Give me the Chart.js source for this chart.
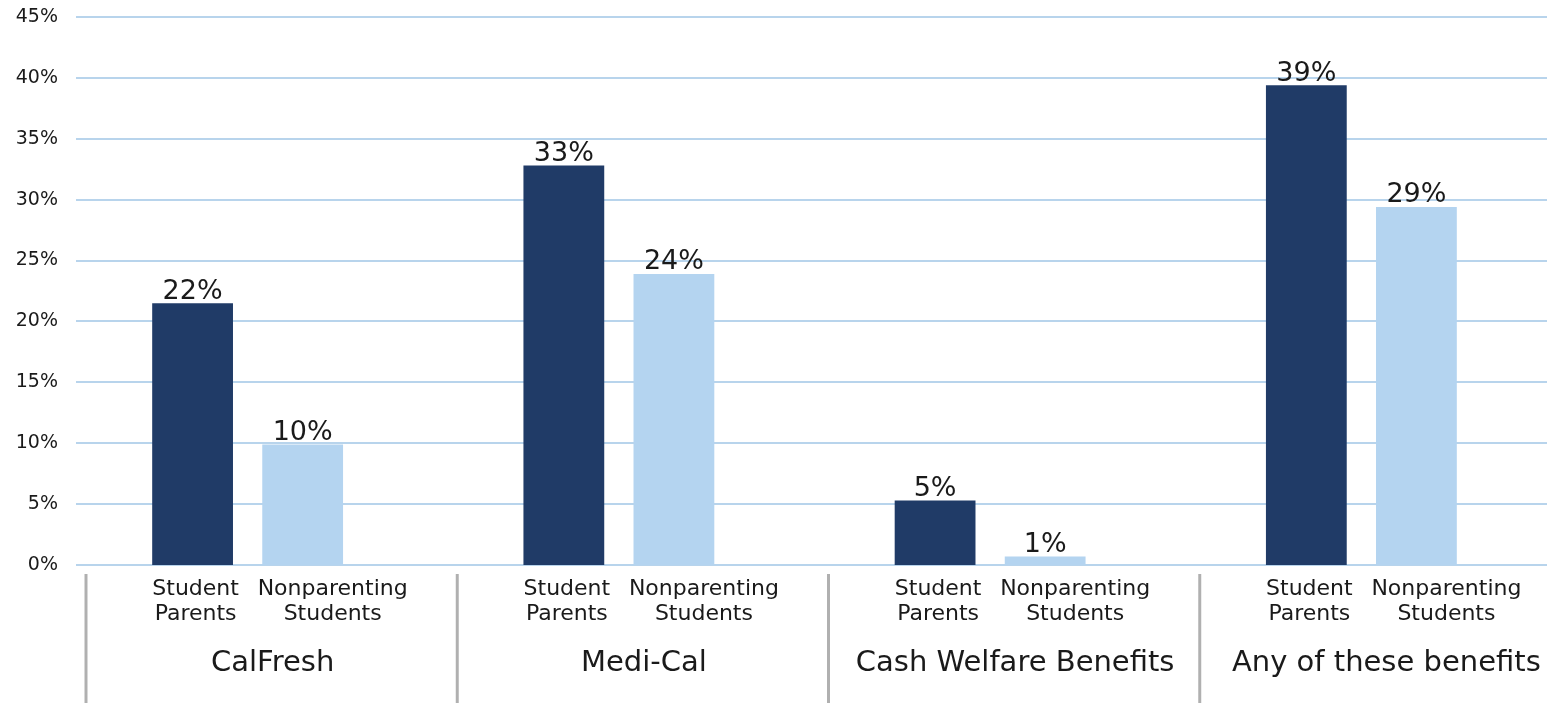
<!DOCTYPE html>
<html>
<head>
<meta charset="utf-8">
<script src="https://cdn.jsdelivr.net/npm/chart.js@4/dist/chart.umd.min.js"></script>
<style>
  html, body { margin: 0; padding: 0; background: #fff; }
  #wrap { width: 1566px; height: 703px; position: relative; }
</style>
</head>
<body>
<div id="wrap"><canvas id="c" width="1566" height="703"></canvas></div>
<script>
const groups = ["CalFresh", "Medi-Cal", "Cash Welfare Benefits", "Any of these benefits"];
const seriesNames = [["Student", "Parents"], ["Nonparenting", "Students"]];
const studentParents = [21.5, 32.8, 5.3, 39.4];
const nonparentingStudents = [9.9, 23.9, 0.7, 29.4];
const yTicks = [0, 5, 10, 15, 20, 25, 30, 35, 40, 45];

const FONT = "'DejaVu Sans', sans-serif";
const TEXT = "#1a1a1a";

const gridLines = {
  id: 'gridLines',
  beforeDatasetsDraw(chart) {
    const ctx = chart.ctx;
    const y = chart.scales.y;
    const area = chart.chartArea;
    ctx.save();
    ctx.strokeStyle = '#b8d4ec';
    ctx.lineWidth = 2;
    yTicks.forEach(v => {
      const py = Math.round(y.getPixelForValue(v));
      ctx.beginPath();
      ctx.moveTo(area.left + 14, py);
      ctx.lineTo(area.right, py);
      ctx.stroke();
    });
    ctx.restore();
  }
};

const belowAxis = {
  id: 'belowAxis',
  afterDraw(chart) {
    const ctx = chart.ctx;
    const x = chart.scales.x;
    const area = chart.chartArea;
    const w = x.getPixelForValue(1) - x.getPixelForValue(0);
    ctx.save();
    // separators
    ctx.strokeStyle = '#b0b0b0';
    ctx.lineWidth = 3;
    for (let i = 0; i < groups.length; i++) {
      const sx = x.getPixelForValue(i) - w / 2 + 24;
      ctx.beginPath();
      ctx.moveTo(sx, area.bottom + 9);
      ctx.lineTo(sx, chart.height);
      ctx.stroke();
    }
    // series sub-labels
    ctx.fillStyle = TEXT;
    ctx.textAlign = 'center';
    ctx.textBaseline = 'middle';
    ctx.font = "22px " + FONT;
    chart.data.datasets.forEach((ds, di) => {
      const meta = chart.getDatasetMeta(di);
      meta.data.forEach((bar) => {
        const lx = bar.x + (di === 0 ? 3 : 30);
        ctx.fillText(seriesNames[di][0], lx, area.bottom + 24);
        ctx.fillText(seriesNames[di][1], lx, area.bottom + 49);
      });
    });
    // group labels
    ctx.font = "29px " + FONT;
    groups.forEach((g, i) => {
      ctx.fillText(g, x.getPixelForValue(i) + 25, area.bottom + 98);
    });
    // value labels
    ctx.font = "27px " + FONT;
    chart.data.datasets.forEach((ds, di) => {
      const meta = chart.getDatasetMeta(di);
      meta.data.forEach((bar, j) => {
        ctx.textBaseline = 'bottom';
        ctx.fillText(Math.round(ds.data[j]) + '%', bar.x, bar.y + 2);
      });
    });
    ctx.restore();
  }
};

new Chart(document.getElementById('c'), {
  type: 'bar',
  data: {
    labels: groups,
    datasets: [
      { label: 'Student Parents', data: studentParents, backgroundColor: '#203b67',
        categoryPercentage: 0.593, barPercentage: 0.734 },
      { label: 'Nonparenting Students', data: nonparentingStudents, backgroundColor: '#b4d4f0',
        categoryPercentage: 0.593, barPercentage: 0.734 }
    ]
  },
  options: {
    responsive: false,
    animation: false,
    devicePixelRatio: 1,
    layout: { padding: { top: 17, right: 19, left: 0, bottom: 0 } },
    plugins: { legend: { display: false }, tooltip: { enabled: false } },
    scales: {
      x: {
        ticks: { display: false },
        grid: { display: false },
        border: { display: false },
        afterFit(s) { s.height = 138; }
      },
      y: {
        min: 0, max: 45,
        afterBuildTicks(s) { s.ticks = yTicks.map(v => ({ value: v })); },
        ticks: {
          padding: 4,
          color: TEXT,
          font: { family: FONT, size: 19 },
          callback: v => v + '%'
        },
        grid: { display: false, drawTicks: false },
        border: { display: false },
        afterFit(s) { s.width = 62; s.paddingTop = 0; }
      }
    }
  },
  plugins: [gridLines, belowAxis]
});
</script>
</body>
</html>
